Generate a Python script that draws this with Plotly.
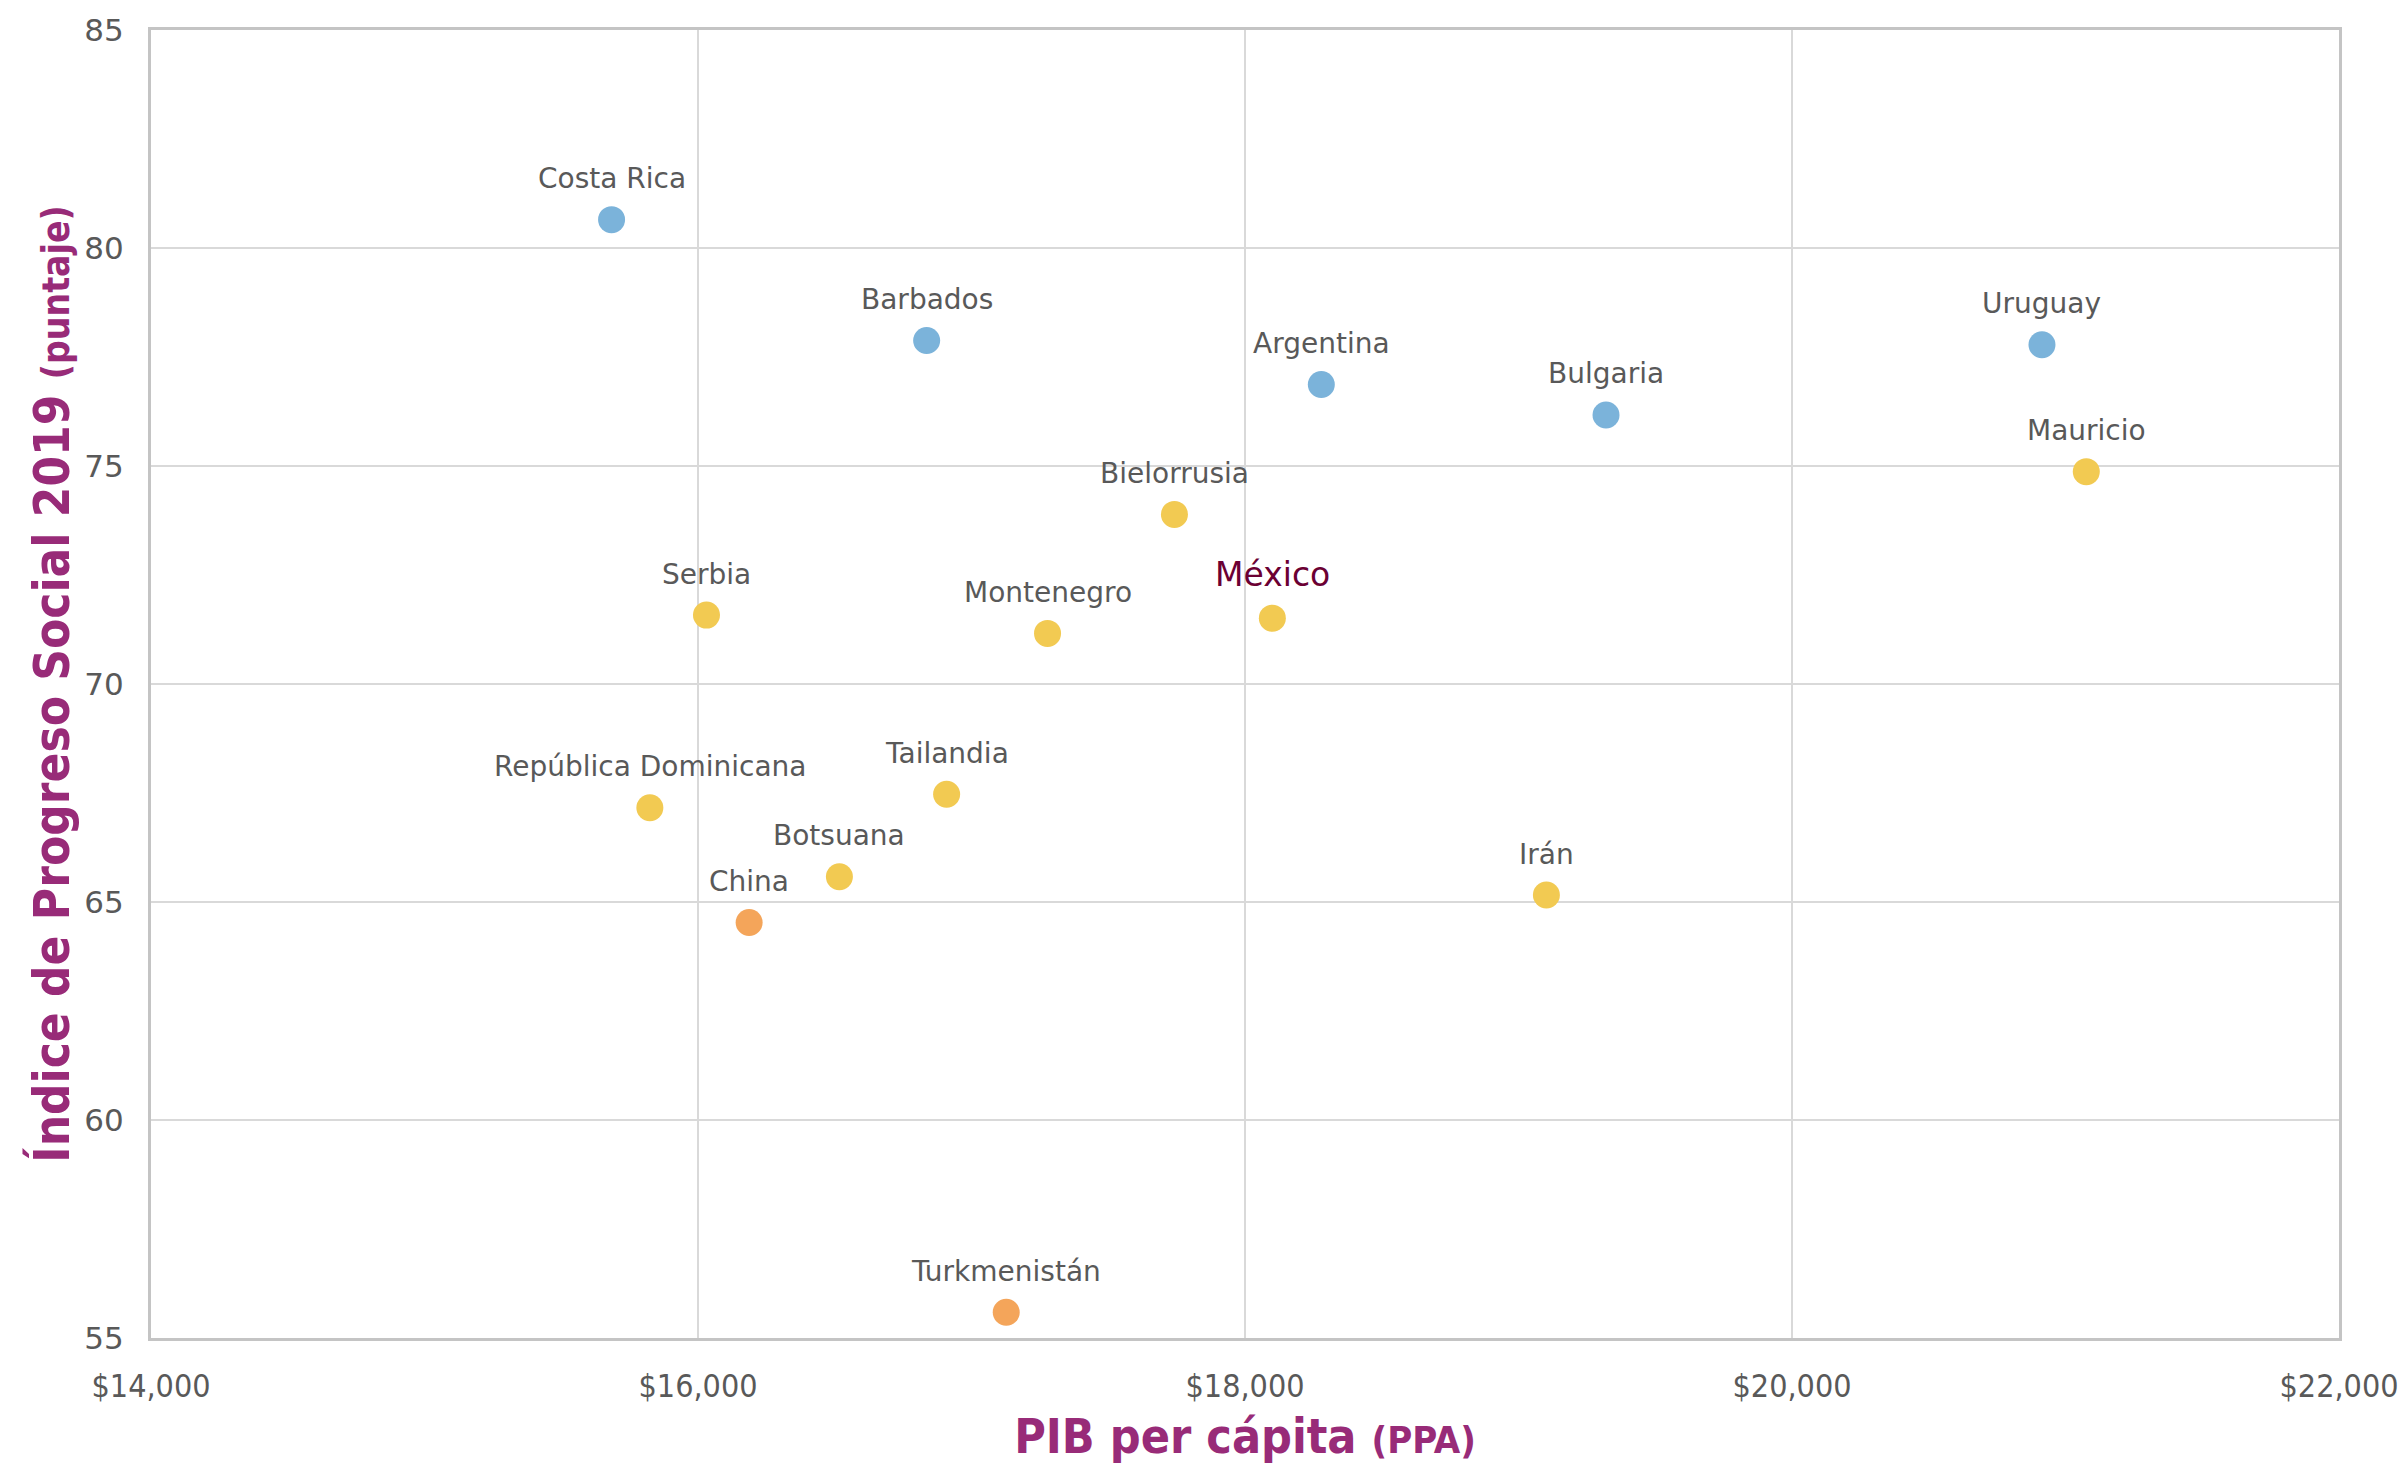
import plotly.graph_objects as go

# datos: PIB per capita (PPA) vs IPS 2019
paises = ["Costa Rica", "Barbados", "Argentina", "Bulgaria", "Uruguay",
          "Mauricio", "Bielorrusia", "Serbia", "Montenegro", "México",
          "República Dominicana", "Tailandia", "Botsuana", "China", "Irán",
          "Turkmenistán"]
pib = [15684, 16836, 18279, 19320, 20914,
       21076, 17742, 16031, 17278, 18100,
       15824, 16909, 16517, 16187, 19102,
       17127]
ips = [80.65, 77.88, 76.87, 76.17, 77.78,
       74.87, 73.89, 71.58, 71.16, 71.51,
       67.16, 67.47, 65.58, 64.53, 65.16,
       55.59]
grupo = ["alto", "alto", "alto", "alto", "alto",
         "medio", "medio", "medio", "medio", "medio",
         "medio", "medio", "medio", "bajo", "medio",
         "bajo"]

colores = {"alto": "#7BB3DA", "medio": "#F2CA52", "bajo": "#F4A55A"}
morado = "#982B78"

fig = go.Figure()
fig.add_trace(go.Scatter(
    x=pib, y=ips, mode="markers",
    marker=dict(size=27, color=[colores[g] for g in grupo], line=dict(width=0)),
    hovertext=paises, showlegend=False,
))

for p, xv, yv in zip(paises, pib, ips):
    if p == "México":
        fnt = dict(family="DejaVu Sans", size=33, color="#6B0033")
        ys = 44
    else:
        fnt = dict(family="DejaVu Sans", size=28, color="#595959")
        ys = 41
    fig.add_annotation(x=xv, y=yv, text=p, showarrow=False, font=fnt,
                       yshift=ys, xanchor="center", yanchor="middle")

fig.update_layout(
    width=2399, height=1464,
    margin=dict(l=151, r=60, t=30, b=126),
    plot_bgcolor="white", paper_bgcolor="white",
    font=dict(family="DejaVu Sans", color="#595959"),
)
fig.update_xaxes(
    range=[14000, 22000], tickvals=[14000, 16000, 18000, 20000, 22000],
    ticktext=["$14,000", "$16,000", "$18,000", "$20,000", "$22,000"],
    showgrid=True, gridcolor="#D9D9D9", gridwidth=2,
    showline=True, linecolor="#C4C4C4", linewidth=3, mirror=True,
    zeroline=False, ticks="outside", ticklen=18, tickcolor="rgba(0,0,0,0)",
    automargin=False,
    tickfont=dict(family="DejaVu Sans Condensed", size=32, color="#595959"),
    title=dict(text="<b>PIB per cápita <span style='font-size:38px'>(PPA)</span></b>",
               font=dict(family="DejaVu Sans Condensed", size=48, color=morado),
               standoff=17),
)
fig.update_yaxes(
    range=[55, 85], tickvals=[55, 60, 65, 70, 75, 80, 85],
    showgrid=True, gridcolor="#D9D9D9", gridwidth=2,
    showline=True, linecolor="#C4C4C4", linewidth=3, mirror=True,
    zeroline=False, ticks="outside", ticklen=18, tickcolor="rgba(0,0,0,0)",
    automargin=False,
    tickfont=dict(family="DejaVu Sans", size=31, color="#595959"),
    title=dict(text="<b>Índice de Progreso Social 2019 <span style='font-size:37px'>(puntaje)</span></b>",
               font=dict(family="DejaVu Sans Condensed", size=49, color=morado),
               standoff=0),
)

# sin margen del body para que la figura ocupe toda la ventana
fig.write_html("out.html", config={"displayModeBar": False},
               post_script="document.body.style.margin='0px';document.body.style.overflow='hidden';")
